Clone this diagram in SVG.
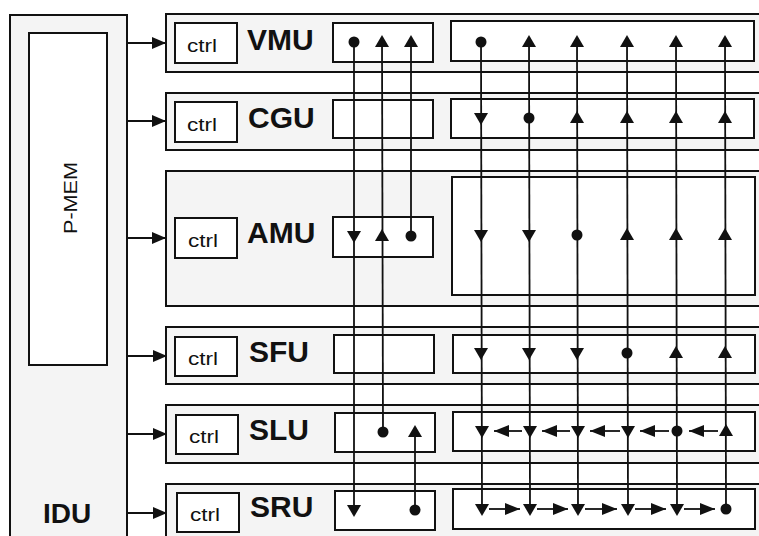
<svg xmlns="http://www.w3.org/2000/svg" xmlns:xlink="http://www.w3.org/1999/xlink" width="759" height="536" viewBox="0 0 759 536">
<style>
.outer{fill:#f4f4f4;stroke:#111;stroke-width:2}
.box{fill:#fff;stroke:#111;stroke-width:2}
.ctrl{font-family:"Liberation Sans",Arial,sans-serif;font-size:19px;fill:#111;text-anchor:middle}
.pm{font-family:"Liberation Sans",Arial,sans-serif;font-size:18px;fill:#111;text-anchor:middle}
.lbl{font-family:"Liberation Sans",Arial,sans-serif;font-size:30px;font-weight:bold;fill:#111}
.ln{stroke:#111;stroke-width:1.8;fill:none}
.mk{fill:#111}
</style>
<defs>
<marker id="ah" markerUnits="userSpaceOnUse" markerWidth="14" markerHeight="12" refX="14" refY="6" orient="auto"><path d="M0,0 L14,6 L0,12 z" fill="#111"/></marker>
<marker id="ha" markerUnits="userSpaceOnUse" markerWidth="15" markerHeight="12" refX="15" refY="6" orient="auto"><path d="M0,0 L15,6 L0,12 z" fill="#111"/></marker>
<path id="up" d="M0,-7 L7,5 L-7,5 z"/>
<path id="dn" d="M-7,-5 L7,-5 L0,7 z"/>
<circle id="dot" r="5.5"/>
</defs>
<rect width="759" height="536" fill="#fff"/>

<g id="idu">
<rect class="outer" x="10" y="15" width="117" height="540"/>
<rect class="box" x="29" y="33" width="78" height="332"/>
<text transform="translate(77,198) rotate(-90)" x="0" y="0" class="pm" textLength="72" lengthAdjust="spacingAndGlyphs">P-MEM</text>
<text class="lbl" x="43" y="523" style="font-size:28px">IDU</text>
</g>

<g id="vmu">
<rect class="outer" x="166" y="14" width="610" height="58"/>
<rect class="box" x="175" y="23" width="62" height="40"/>
<text class="ctrl" x="202" y="52" textLength="30" lengthAdjust="spacingAndGlyphs">ctrl</text>
<text class="lbl" x="247" y="50">VMU</text>
<rect class="box" x="333" y="23" width="100" height="39"/>
<rect class="box" x="451" y="21" width="303" height="40"/>
</g>

<g id="cgu">
<rect class="outer" x="166" y="93" width="610" height="57"/>
<rect class="box" x="175" y="102" width="62" height="40"/>
<text class="ctrl" x="202" y="131" textLength="30" lengthAdjust="spacingAndGlyphs">ctrl</text>
<text class="lbl" x="248" y="128">CGU</text>
<rect class="box" x="333" y="100" width="100" height="38"/>
<rect class="box" x="451" y="99" width="303" height="39"/>
</g>

<g id="amu">
<rect class="outer" x="166" y="171" width="610" height="135"/>
<rect class="box" x="175" y="218" width="62" height="40"/>
<text class="ctrl" x="203" y="247" textLength="30" lengthAdjust="spacingAndGlyphs">ctrl</text>
<text class="lbl" x="247" y="243">AMU</text>
<rect class="box" x="333" y="217" width="100" height="40"/>
<rect class="box" x="452" y="177" width="303" height="118"/>
</g>

<g id="sfu">
<rect class="outer" x="166" y="327" width="610" height="57"/>
<rect class="box" x="175" y="337" width="62" height="39"/>
<text class="ctrl" x="203" y="365" textLength="30" lengthAdjust="spacingAndGlyphs">ctrl</text>
<text class="lbl" x="249" y="362">SFU</text>
<rect class="box" x="334" y="335" width="100" height="38"/>
<rect class="box" x="453" y="335" width="302" height="38"/>
</g>

<g id="slu">
<rect class="outer" x="166" y="405" width="610" height="58"/>
<rect class="box" x="176" y="415" width="62" height="39"/>
<text class="ctrl" x="204" y="443" textLength="30" lengthAdjust="spacingAndGlyphs">ctrl</text>
<text class="lbl" x="249" y="440">SLU</text>
<rect class="box" x="335" y="413" width="100" height="39"/>
<rect class="box" x="453" y="412" width="302" height="39"/>
</g>

<g id="sru">
<rect class="outer" x="166" y="484" width="610" height="70"/>
<rect class="box" x="177" y="493" width="62" height="39"/>
<text class="ctrl" x="205" y="521" textLength="30" lengthAdjust="spacingAndGlyphs">ctrl</text>
<text class="lbl" x="250" y="517">SRU</text>
<rect class="box" x="335" y="491" width="100" height="39"/>
<rect class="box" x="453" y="489" width="302" height="40"/>
</g>

<g id="connectors">
<line class="ln" x1="127" y1="43" x2="166" y2="43" marker-end="url(#ah)"/>
<line class="ln" x1="127" y1="121" x2="166" y2="121" marker-end="url(#ah)"/>
<line class="ln" x1="127" y1="238" x2="166" y2="238" marker-end="url(#ah)"/>
<line class="ln" x1="128" y1="356" x2="167" y2="356" marker-end="url(#ah)"/>
<line class="ln" x1="128" y1="434" x2="167" y2="434" marker-end="url(#ah)"/>
<line class="ln" x1="128" y1="513" x2="167" y2="513" marker-end="url(#ah)"/>

<line class="ln" x1="354" y1="42" x2="354" y2="509"/>
<line class="ln" x1="382" y1="42" x2="383" y2="431"/>
<line class="ln" x1="411" y1="42" x2="411" y2="235"/>
<line class="ln" x1="415" y1="431" x2="415" y2="509"/>
<line class="ln" x1="481" y1="42" x2="482" y2="509"/>
<line class="ln" x1="529" y1="42" x2="530" y2="509"/>
<line class="ln" x1="577" y1="42" x2="578" y2="509"/>
<line class="ln" x1="627" y1="42" x2="628" y2="509"/>
<line class="ln" x1="676" y1="42" x2="677" y2="509"/>
<line class="ln" x1="725" y1="42" x2="726" y2="509"/>

<line class="ln" x1="522" y1="431" x2="494" y2="431" marker-end="url(#ha)"/>
<line class="ln" x1="570" y1="431" x2="542" y2="431" marker-end="url(#ha)"/>
<line class="ln" x1="620" y1="431" x2="590" y2="431" marker-end="url(#ha)"/>
<line class="ln" x1="669" y1="431" x2="640" y2="431" marker-end="url(#ha)"/>
<line class="ln" x1="718" y1="431" x2="689" y2="431" marker-end="url(#ha)"/>

<line class="ln" x1="489" y1="509" x2="520" y2="509" marker-end="url(#ha)"/>
<line class="ln" x1="537" y1="509" x2="568" y2="509" marker-end="url(#ha)"/>
<line class="ln" x1="585" y1="509" x2="617" y2="509" marker-end="url(#ha)"/>
<line class="ln" x1="635" y1="509" x2="666" y2="509" marker-end="url(#ha)"/>
<line class="ln" x1="684" y1="509" x2="715" y2="509" marker-end="url(#ha)"/>

<g class="mk">
<use xlink:href="#dot" x="354" y="42"/>
<use xlink:href="#up" x="382" y="42"/>
<use xlink:href="#up" x="411" y="42"/>
<use xlink:href="#dot" x="481" y="42"/>
<use xlink:href="#up" x="529" y="42"/>
<use xlink:href="#up" x="577" y="42"/>
<use xlink:href="#up" x="627" y="42"/>
<use xlink:href="#up" x="676" y="42"/>
<use xlink:href="#up" x="725" y="42"/>

<use xlink:href="#dn" x="481" y="118"/>
<use xlink:href="#dot" x="529" y="118"/>
<use xlink:href="#up" x="577" y="118"/>
<use xlink:href="#up" x="627" y="118"/>
<use xlink:href="#up" x="676" y="118"/>
<use xlink:href="#up" x="725" y="118"/>

<use xlink:href="#dn" x="354" y="236"/>
<use xlink:href="#up" x="382" y="236"/>
<use xlink:href="#dot" x="411" y="236"/>
<use xlink:href="#dn" x="481" y="235"/>
<use xlink:href="#dn" x="529" y="235"/>
<use xlink:href="#dot" x="577" y="235"/>
<use xlink:href="#up" x="627" y="235"/>
<use xlink:href="#up" x="676" y="235"/>
<use xlink:href="#up" x="725" y="235"/>

<use xlink:href="#dn" x="481" y="353"/>
<use xlink:href="#dn" x="529" y="353"/>
<use xlink:href="#dn" x="577" y="353"/>
<use xlink:href="#dot" x="627" y="353"/>
<use xlink:href="#up" x="676" y="353"/>
<use xlink:href="#up" x="725" y="353"/>

<use xlink:href="#dot" x="383" y="432"/>
<use xlink:href="#up" x="415" y="432"/>
<use xlink:href="#dn" x="482" y="431"/>
<use xlink:href="#dn" x="530" y="431"/>
<use xlink:href="#dn" x="578" y="431"/>
<use xlink:href="#dn" x="628" y="431"/>
<use xlink:href="#dot" x="677" y="431"/>
<use xlink:href="#up" x="726" y="431"/>

<use xlink:href="#dn" x="354" y="510"/>
<use xlink:href="#dot" x="415" y="510"/>
<use xlink:href="#dn" x="482" y="509"/>
<use xlink:href="#dn" x="530" y="509"/>
<use xlink:href="#dn" x="578" y="509"/>
<use xlink:href="#dn" x="628" y="509"/>
<use xlink:href="#dn" x="677" y="509"/>
<use xlink:href="#dot" x="726" y="509"/>
</g>
</g>
</svg>
